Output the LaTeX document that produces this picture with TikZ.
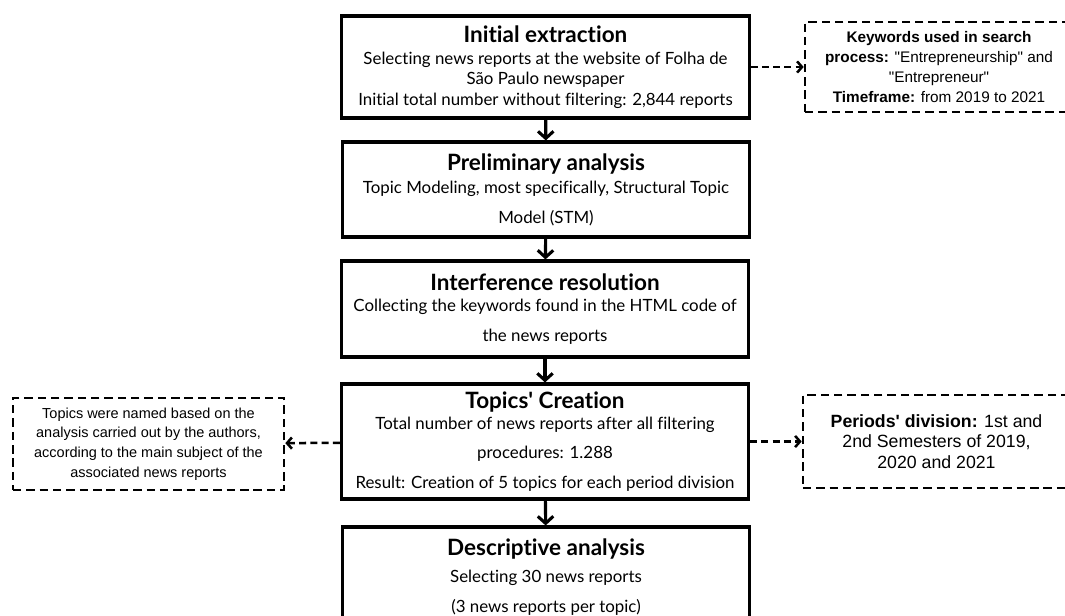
\documentclass[tikz,border=0pt]{standalone}
\usepackage{xcolor}
\usepackage{fontspec}
\newfontfamily\stepfont{Lato}[Ligatures=NoCommon]
\newfontfamily\sidefont{Liberation Sans}
\usetikzlibrary{arrows.meta}
\newcommand\steptitle[1]{{\fontsize{16}{18}\selectfont\bfseries #1}}

\begin{document}
\begin{tikzpicture}[x=0.025cm,y=-0.025cm,
		stepbox/.style={draw,line width=2.2pt,inner sep=0pt,align=center,minimum width=10.175cm,font=\stepfont\fontsize{12}{14.5}\selectfont},
		notebox/.style={draw,line width=1.8pt,dash pattern=on 6pt off 3.5pt,inner sep=0pt,align=center},
		flow/.style={line width=2.2pt,-{Straight Barb[length=5pt,width=11pt,line width=2.2pt]}},
		aside/.style={line width=1.8pt,dash pattern=on 5pt off 3pt,-{Straight Barb[length=3.5pt,width=8pt,line width=1.8pt]}}]
		\clip(0,0)rectangle(1065,616);
		\fill[white](0,0)rectangle(1065,616);
		\node[stepbox,minimum height=2.55cm](initial) at (545.5,67){\steptitle{Initial extraction}\\[1pt]Selecting news reports at the website of Folha de\\São Paulo newspaper\\Initial total number without filtering: 2,844 reports};
		\node[stepbox,minimum height=2.375cm](prelim) at (546,189.5){\steptitle{Preliminary analysis}\\[2pt]Topic Modeling, most specifically, Structural Topic\\[6.8pt]Model (STM)};
		\node[stepbox,minimum height=2.4cm](interf) at (545,309){\steptitle{Interference resolution}\\[1pt]Collecting the keywords found in the HTML code of\\[6.8pt]the news reports};
		\node[stepbox,minimum height=2.875cm](topics) at (545,441.5){\steptitle{Topics' Creation}\\Total number of news reports after all filtering\\[6.5pt]procedures: 1.288\\[6.5pt]Result: Creation of 5 topics for each period division};
		\node[stepbox,minimum height=2.5cm](descr) at (546,577){\steptitle{Descriptive analysis}\\[5pt]Selecting 30 news reports\\[7pt](3 news reports per topic)};
		\node[notebox,minimum width=6.7cm,minimum height=2.25cm,font=\sidefont\fontsize{10.9}{14.2}\selectfont](keywords) at (939,67){\textbf{Keywords used in search}\\\textbf{process:} "Entrepreneurship" and\\"Entrepreneur"\\\textbf{Timeframe:} from 2019 to 2021};
		\node[notebox,minimum width=6.675cm,minimum height=2.325cm,font=\sidefont\fontsize{12.6}{14.8}\selectfont](periods) at (936.5,441.5){\textbf{Periods' division:} 1st and\\2nd Semesters of 2019,\\2020 and 2021};
		\node[notebox,minimum width=6.775cm,minimum height=2.3cm,font=\sidefont\fontsize{10.3}{14}\selectfont](naming) at (148.5,444){Topics were named based on the\\analysis carried out by the authors,\\according to the main subject of the\\associated news reports};
		\draw[flow](initial)--(prelim);
		\draw[flow](prelim)--(interf);
		\draw[flow](interf)--(topics);
		\draw[flow](topics)--(descr);
		\draw[aside](initial)--(keywords);
		\draw[aside](topics)--(periods);
		\draw[aside](topics)--(naming);
		\end{tikzpicture}
\end{document}
